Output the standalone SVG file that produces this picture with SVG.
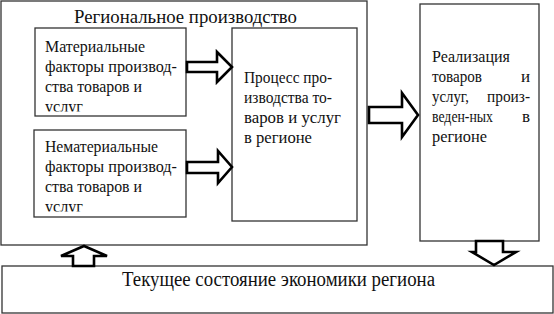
<svg xmlns="http://www.w3.org/2000/svg" width="554" height="314" viewBox="0 0 554 314" font-family="Liberation Serif, Tinos, Times New Roman, Nimbus Roman, DejaVu Serif, serif">
<style>
.box{fill:#fff;stroke:#333;stroke-width:1.3}
.t{font-size:17px;fill:#111}
.arr{fill:#fff;stroke:#000;stroke-width:2.6;stroke-linejoin:miter}
</style>
<defs>
<clipPath id="c1"><rect x="35" y="28" width="151" height="83.5"/></clipPath>
<clipPath id="c2"><rect x="34" y="130" width="152" height="81.5"/></clipPath>
</defs>
<rect width="554" height="314" fill="#fff"/>
<g id="regional">
<rect class="box" x="1" y="1" width="366" height="244"/>
<text class="t" x="74" y="23" style="font-size:18px" textLength="223" lengthAdjust="spacingAndGlyphs">Региональное производство</text>
</g>
<g id="material">
<rect class="box" x="35" y="28" width="151" height="88"/>
<g clip-path="url(#c1)">
<text class="t" x="45" y="52" textLength="100" lengthAdjust="spacingAndGlyphs">Материальные</text>
<text class="t" x="45" y="72" textLength="132" lengthAdjust="spacingAndGlyphs">факторы производ-</text>
<text class="t" x="45" y="92" textLength="97" lengthAdjust="spacingAndGlyphs">ства товаров и</text>
<text class="t" x="45" y="112" textLength="38" lengthAdjust="spacingAndGlyphs">услуг</text>
</g>
</g>
<g id="nonmaterial">
<rect class="box" x="34" y="130" width="152" height="87"/>
<g clip-path="url(#c2)">
<text class="t" x="45" y="152" textLength="113" lengthAdjust="spacingAndGlyphs">Нематериальные</text>
<text class="t" x="45" y="172" textLength="132" lengthAdjust="spacingAndGlyphs">факторы производ-</text>
<text class="t" x="45" y="192" textLength="97" lengthAdjust="spacingAndGlyphs">ства товаров и</text>
<text class="t" x="45" y="212" textLength="38" lengthAdjust="spacingAndGlyphs">услуг</text>
</g>
</g>
<g id="process">
<rect class="box" x="232" y="28" width="125" height="193"/>
<text class="t" x="244" y="83" textLength="88" lengthAdjust="spacingAndGlyphs">Процесс про-</text>
<text class="t" x="244" y="103" textLength="88" lengthAdjust="spacingAndGlyphs">изводства то-</text>
<text class="t" x="244" y="123" textLength="97" lengthAdjust="spacingAndGlyphs">варов и услуг</text>
<text class="t" x="244" y="143" textLength="68" lengthAdjust="spacingAndGlyphs">в регионе</text>
</g>
<g id="realization">
<rect class="box" x="420" y="4" width="119" height="237"/>
<text class="t" x="432" y="62" textLength="78" lengthAdjust="spacingAndGlyphs">Реализация</text>
<text class="t" x="432" y="82" textLength="50" lengthAdjust="spacingAndGlyphs">товаров</text>
<text class="t" x="530" y="82" text-anchor="end">и</text>
<text class="t" x="432" y="102" textLength="37" lengthAdjust="spacingAndGlyphs">услуг,</text>
<text class="t" x="487" y="102" textLength="43" lengthAdjust="spacingAndGlyphs">произ-</text>
<text class="t" x="432" y="122" textLength="61" lengthAdjust="spacingAndGlyphs">веден-ных</text>
<text class="t" x="530" y="122" text-anchor="end">в</text>
<text class="t" x="432" y="142" textLength="55" lengthAdjust="spacingAndGlyphs">регионе</text>
</g>
<g id="economy">
<rect class="box" x="2" y="266" width="551" height="47"/>
<text class="t" x="122" y="286" style="font-size:20px" textLength="313" lengthAdjust="spacingAndGlyphs">Текущее состояние экономики региона</text>
</g>
<g id="connectors">
<polygon class="arr" points="187,62 217,62 217,52 232,67 217,82 217,72 187,72"/>
<polygon class="arr" points="187,162 218,162 218,151 232,167 218,183 218,173 187,173"/>
<polygon class="arr" points="369,107 402,107 402,93 418,115 402,137 402,123 369,123"/>
<polygon class="arr" points="73,266 73,256 61,256 84,246 107,256 94,256 94,266"/>
<polygon class="arr" points="476,241 503,241 503,252 516,252 494,265 472,252 476,252"/>
</g>
</svg>
